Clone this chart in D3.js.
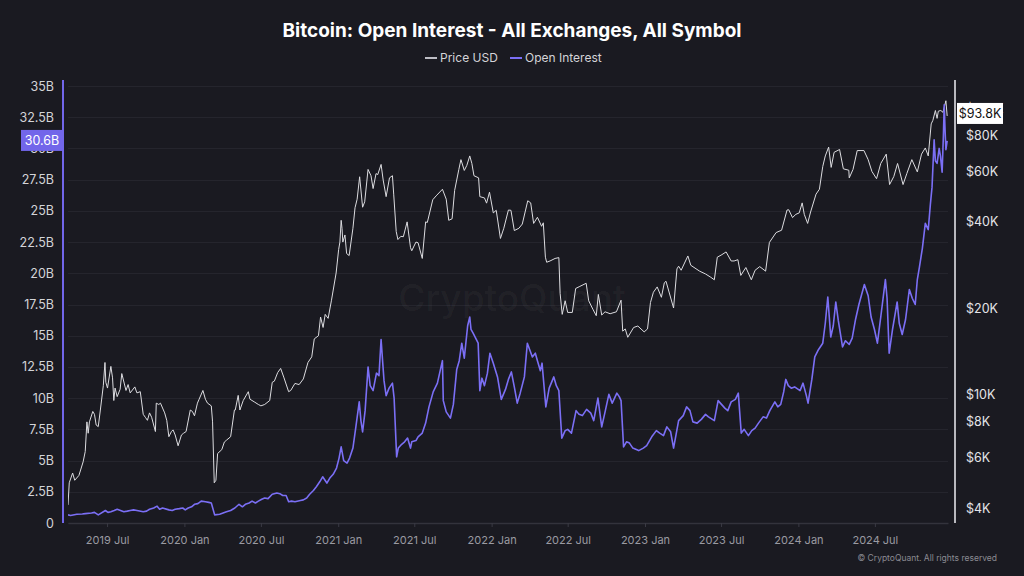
<!DOCTYPE html>
<html>
<head>
<meta charset="utf-8">
<script src="https://cdn.jsdelivr.net/npm/d3@7"></script>
<style>
	html, body { margin: 0; padding: 0; background: #1a1a21; }
	svg { display: block; font-family: Inter, "Noto Sans", sans-serif; }
</style>
</head>
<body>
<div id="chart"></div>
<script>
// BTC price, USD (date, close)
var priceData = [
	["2019-03-30", 4100], ["2019-04-02", 4900], ["2019-04-10", 5300], ["2019-04-15", 5000],
	["2019-04-25", 5200], ["2019-05-05", 5800], ["2019-05-10", 6300], ["2019-05-14", 8000],
	["2019-05-17", 7300], ["2019-05-20", 8000], ["2019-05-28", 8700], ["2019-06-01", 8500],
	["2019-06-05", 7800], ["2019-06-10", 7700], ["2019-06-15", 8800], ["2019-06-22", 10700],
	["2019-06-26", 12900], ["2019-06-28", 11000], ["2019-07-02", 10500], ["2019-07-10", 12500],
	["2019-07-14", 11400], ["2019-07-17", 9500], ["2019-07-20", 10500], ["2019-07-25", 9800],
	["2019-08-01", 10400], ["2019-08-05", 11800], ["2019-08-15", 10300], ["2019-08-20", 10800],
	["2019-08-25", 10100], ["2019-09-05", 10600], ["2019-09-10", 10100], ["2019-09-18", 10200],
	["2019-09-25", 8500], ["2019-09-30", 8300], ["2019-10-05", 8100], ["2019-10-10", 8600],
	["2019-10-15", 8300], ["2019-10-24", 7400], ["2019-10-26", 9300], ["2019-11-01", 9200],
	["2019-11-05", 9300], ["2019-11-15", 8600], ["2019-11-20", 8100], ["2019-11-25", 7100],
	["2019-12-01", 7400], ["2019-12-05", 7500], ["2019-12-10", 7200], ["2019-12-17", 6600],
	["2019-12-25", 7200], ["2019-12-30", 7300], ["2020-01-05", 7400], ["2020-01-15", 8800],
	["2020-01-20", 8700], ["2020-01-25", 8400], ["2020-02-01", 9300], ["2020-02-05", 9600],
	["2020-02-14", 10300], ["2020-02-20", 9600], ["2020-02-25", 9300], ["2020-03-05", 9100],
	["2020-03-08", 8000], ["2020-03-12", 4900], ["2020-03-16", 5000], ["2020-03-20", 6200],
	["2020-03-30", 6400], ["2020-04-05", 6800], ["2020-04-10", 6900], ["2020-04-20", 7100],
	["2020-04-29", 8800], ["2020-05-01", 8800], ["2020-05-08", 9900], ["2020-05-12", 8800],
	["2020-05-20", 9500], ["2020-06-01", 10200], ["2020-06-05", 9600], ["2020-06-15", 9400],
	["2020-06-25", 9200], ["2020-07-01", 9100], ["2020-07-10", 9200], ["2020-07-22", 9500],
	["2020-07-28", 11000], ["2020-08-02", 11100], ["2020-08-10", 11900], ["2020-08-17", 12300],
	["2020-08-25", 11400], ["2020-09-05", 10200], ["2020-09-10", 10300], ["2020-09-20", 10900],
	["2020-09-30", 10800], ["2020-10-10", 11300], ["2020-10-21", 12900], ["2020-10-30", 13500],
	["2020-11-05", 15600], ["2020-11-15", 16000], ["2020-11-20", 18600], ["2020-11-26", 17100],
	["2020-12-01", 19000], ["2020-12-08", 18400], ["2020-12-16", 21300], ["2020-12-27", 26500],
	["2021-01-02", 32000], ["2021-01-05", 34000], ["2021-01-08", 40500], ["2021-01-10", 38000],
	["2021-01-12", 34000], ["2021-01-17", 36000], ["2021-01-21", 31000], ["2021-01-27", 30500],
	["2021-02-05", 38000], ["2021-02-10", 44800], ["2021-02-15", 48000], ["2021-02-21", 57500],
	["2021-02-28", 45000], ["2021-03-05", 47000], ["2021-03-13", 61000], ["2021-03-20", 58000],
	["2021-03-25", 52300], ["2021-04-01", 59000], ["2021-04-05", 58500], ["2021-04-13", 63500],
	["2021-04-18", 56000], ["2021-04-25", 49000], ["2021-05-03", 57000], ["2021-05-10", 58000],
	["2021-05-13", 50000], ["2021-05-19", 37000], ["2021-05-23", 34700], ["2021-05-30", 35600],
	["2021-06-05", 35500], ["2021-06-14", 40000], ["2021-06-22", 32500], ["2021-06-25", 31700],
	["2021-07-05", 34000], ["2021-07-10", 33800], ["2021-07-20", 29800], ["2021-07-28", 40000],
	["2021-08-01", 39800], ["2021-08-14", 47800], ["2021-08-22", 49300], ["2021-09-06", 52000],
	["2021-09-15", 48000], ["2021-09-21", 40500], ["2021-09-29", 41000], ["2021-10-05", 51500],
	["2021-10-15", 61000], ["2021-10-20", 66000], ["2021-10-28", 60500], ["2021-11-03", 63000],
	["2021-11-10", 68000], ["2021-11-15", 64000], ["2021-11-20", 58000], ["2021-12-01", 57000],
	["2021-12-04", 49000], ["2021-12-15", 48500], ["2021-12-20", 46500], ["2021-12-27", 50800],
	["2022-01-05", 43000], ["2022-01-12", 43900], ["2022-01-22", 35000], ["2022-01-30", 38000],
	["2022-02-10", 44000], ["2022-02-16", 43900], ["2022-02-24", 37300], ["2022-03-07", 38000],
	["2022-03-15", 39300], ["2022-03-28", 47400], ["2022-04-04", 46600], ["2022-04-11", 39500],
	["2022-04-20", 41500], ["2022-04-30", 38600], ["2022-05-04", 39700], ["2022-05-09", 30100],
	["2022-05-12", 28900], ["2022-05-20", 29200], ["2022-06-01", 29800], ["2022-06-10", 30000],
	["2022-06-13", 22500], ["2022-06-18", 19000], ["2022-06-25", 21200], ["2022-07-01", 19300],
	["2022-07-12", 19300], ["2022-07-20", 23400], ["2022-07-30", 23800], ["2022-08-14", 24400],
	["2022-08-20", 21200], ["2022-08-30", 19800], ["2022-09-07", 18800], ["2022-09-12", 22300],
	["2022-09-20", 18900], ["2022-09-28", 19400], ["2022-10-10", 19100], ["2022-10-25", 19400],
	["2022-11-05", 21300], ["2022-11-09", 16600], ["2022-11-15", 16900], ["2022-11-21", 15800],
	["2022-12-05", 17100], ["2022-12-15", 17300], ["2022-12-30", 16500], ["2023-01-07", 16900],
	["2023-01-14", 20900], ["2023-01-21", 22700], ["2023-01-30", 23700], ["2023-02-09", 21800],
	["2023-02-16", 24500], ["2023-02-20", 24800], ["2023-03-10", 20000], ["2023-03-18", 27400],
	["2023-03-22", 28000], ["2023-03-28", 27100], ["2023-04-13", 30400], ["2023-04-20", 28200],
	["2023-05-11", 26900], ["2023-05-25", 26300], ["2023-06-05", 25700], ["2023-06-15", 25100],
	["2023-06-22", 30100], ["2023-07-01", 30600], ["2023-07-13", 31400], ["2023-07-25", 29200],
	["2023-08-01", 29200], ["2023-08-10", 29500], ["2023-08-17", 26000], ["2023-08-29", 27700],
	["2023-09-11", 25100], ["2023-09-20", 27100], ["2023-10-01", 27900], ["2023-10-15", 26900],
	["2023-10-24", 33900], ["2023-11-09", 36700], ["2023-11-22", 37400], ["2023-12-05", 44000],
	["2023-12-09", 44100], ["2023-12-18", 41400], ["2023-12-26", 42500], ["2024-01-03", 43000],
	["2024-01-10", 46600], ["2024-01-15", 42500], ["2024-01-23", 39500], ["2024-01-30", 43300],
	["2024-02-12", 50000], ["2024-02-20", 52000], ["2024-02-28", 62500], ["2024-03-05", 68000],
	["2024-03-13", 73000], ["2024-03-19", 62000], ["2024-03-26", 70000], ["2024-04-08", 71600],
	["2024-04-17", 61300], ["2024-04-30", 60600], ["2024-05-01", 57000], ["2024-05-10", 61000],
	["2024-05-20", 71000], ["2024-06-05", 71000], ["2024-06-15", 66000], ["2024-06-24", 60000],
	["2024-07-05", 56600], ["2024-07-15", 64000], ["2024-07-28", 69000], ["2024-08-05", 54000],
	["2024-08-15", 57600], ["2024-08-24", 64000], ["2024-09-06", 54000], ["2024-09-15", 59000],
	["2024-09-27", 66000], ["2024-10-10", 59800], ["2024-10-20", 69000], ["2024-10-29", 72500],
	["2024-11-05", 68000], ["2024-11-12", 88000], ["2024-11-16", 90500], ["2024-11-22", 98000],
	["2024-11-26", 92000], ["2024-11-29", 97500], ["2024-12-05", 98000], ["2024-12-10", 96600],
	["2024-12-17", 106000], ["2024-12-20", 93800]
];

// open interest, billions USD (date, value)
var oiData = [
	["2019-03-30", 0.65], ["2019-04-05", 0.6], ["2019-04-20", 0.7], ["2019-05-03", 0.72],
	["2019-05-10", 0.75], ["2019-05-25", 0.8], ["2019-06-01", 0.85], ["2019-06-10", 0.65],
	["2019-06-27", 1.0], ["2019-07-03", 0.85], ["2019-07-10", 0.9], ["2019-07-18", 1.0],
	["2019-07-25", 1.1], ["2019-08-10", 0.9], ["2019-08-18", 0.95], ["2019-08-25", 1.0],
	["2019-09-02", 1.05], ["2019-09-10", 1.0], ["2019-09-25", 0.9], ["2019-10-03", 0.95],
	["2019-10-10", 1.1], ["2019-10-20", 1.2], ["2019-10-28", 1.35], ["2019-11-03", 1.1],
	["2019-11-10", 1.2], ["2019-11-25", 1.05], ["2019-12-03", 1.0], ["2019-12-10", 1.1],
	["2019-12-20", 1.15], ["2019-12-28", 1.2], ["2020-01-03", 1.05], ["2020-01-10", 1.2],
	["2020-01-18", 1.3], ["2020-01-25", 1.5], ["2020-02-02", 1.55], ["2020-02-10", 1.75],
	["2020-02-20", 1.7], ["2020-02-28", 1.65], ["2020-03-05", 1.6], ["2020-03-13", 0.65],
	["2020-03-25", 0.7], ["2020-04-10", 0.9], ["2020-04-20", 1.0], ["2020-04-30", 1.2],
	["2020-05-10", 1.5], ["2020-05-18", 1.3], ["2020-05-25", 1.5], ["2020-06-03", 1.6],
	["2020-06-10", 1.75], ["2020-06-18", 1.6], ["2020-06-25", 1.75], ["2020-07-03", 1.9],
	["2020-07-10", 2.0], ["2020-07-18", 1.95], ["2020-07-28", 2.3], ["2020-08-08", 2.4],
	["2020-08-15", 2.35], ["2020-08-22", 2.2], ["2020-08-30", 2.2], ["2020-09-05", 1.7],
	["2020-09-12", 1.75], ["2020-09-20", 1.7], ["2020-10-03", 1.8], ["2020-10-10", 1.85],
	["2020-10-18", 2.0], ["2020-10-25", 2.3], ["2020-11-03", 2.6], ["2020-11-10", 2.9],
	["2020-11-18", 3.3], ["2020-11-25", 3.7], ["2020-12-05", 3.2], ["2020-12-12", 3.6],
	["2020-12-20", 3.9], ["2020-12-28", 4.4], ["2021-01-03", 5.2], ["2021-01-08", 6.1],
	["2021-01-14", 5.0], ["2021-01-22", 4.8], ["2021-01-28", 5.2], ["2021-02-05", 6.0],
	["2021-02-12", 7.7], ["2021-02-20", 9.7], ["2021-02-24", 8.2], ["2021-02-28", 7.3],
	["2021-03-06", 9.0], ["2021-03-13", 12.5], ["2021-03-18", 11.0], ["2021-03-25", 10.6],
	["2021-04-02", 12.0], ["2021-04-08", 11.8], ["2021-04-13", 14.7], ["2021-04-17", 12.8],
	["2021-04-20", 11.4], ["2021-04-25", 10.2], ["2021-05-02", 10.8], ["2021-05-10", 11.2],
	["2021-05-14", 10.0], ["2021-05-20", 5.3], ["2021-05-24", 6.0], ["2021-06-01", 6.3],
	["2021-06-08", 6.5], ["2021-06-15", 6.8], ["2021-06-22", 6.0], ["2021-06-25", 6.5],
	["2021-07-05", 6.6], ["2021-07-10", 6.9], ["2021-07-20", 7.2], ["2021-07-28", 8.0],
	["2021-08-05", 9.3], ["2021-08-15", 10.5], ["2021-08-25", 11.2], ["2021-09-06", 13.0],
	["2021-09-08", 9.8], ["2021-09-15", 8.9], ["2021-09-25", 8.4], ["2021-10-02", 9.5],
	["2021-10-10", 12.3], ["2021-10-16", 13.0], ["2021-10-22", 14.4], ["2021-10-28", 13.2],
	["2021-11-05", 15.8], ["2021-11-10", 16.5], ["2021-11-13", 15.5], ["2021-11-18", 15.2],
	["2021-11-24", 14.8], ["2021-11-30", 14.4], ["2021-12-04", 10.6], ["2021-12-09", 11.6],
	["2021-12-15", 11.0], ["2021-12-22", 12.0], ["2021-12-28", 13.6], ["2022-01-05", 12.8],
	["2022-01-15", 11.7], ["2022-01-24", 9.9], ["2022-02-03", 10.7], ["2022-02-10", 11.5],
	["2022-02-17", 12.1], ["2022-02-24", 10.9], ["2022-03-03", 9.6], ["2022-03-10", 10.4],
	["2022-03-20", 11.7], ["2022-03-27", 14.4], ["2022-04-08", 13.3], ["2022-04-15", 13.6],
	["2022-04-20", 13.0], ["2022-04-27", 12.2], ["2022-05-01", 12.8], ["2022-05-10", 9.3],
	["2022-05-18", 10.8], ["2022-05-29", 11.7], ["2022-06-04", 11.0], ["2022-06-10", 10.6],
	["2022-06-17", 6.8], ["2022-06-25", 7.4], ["2022-07-01", 7.5], ["2022-07-10", 7.2],
	["2022-07-21", 9.0], ["2022-07-28", 8.7], ["2022-08-05", 8.6], ["2022-08-15", 9.1],
	["2022-08-25", 8.8], ["2022-09-01", 8.2], ["2022-09-11", 10.0], ["2022-09-20", 7.7],
	["2022-09-28", 8.9], ["2022-10-07", 10.3], ["2022-10-15", 9.6], ["2022-10-26", 10.4],
	["2022-11-01", 10.1], ["2022-11-05", 9.8], ["2022-11-11", 6.1], ["2022-11-18", 6.5],
	["2022-11-25", 6.4], ["2022-12-03", 6.0], ["2022-12-17", 5.8], ["2022-12-28", 6.0],
	["2023-01-05", 6.2], ["2023-01-17", 6.9], ["2023-01-28", 7.4], ["2023-02-05", 7.2],
	["2023-02-14", 7.0], ["2023-02-22", 7.7], ["2023-03-03", 7.3], ["2023-03-10", 6.0],
	["2023-03-16", 7.1], ["2023-03-22", 8.2], ["2023-04-02", 8.6], ["2023-04-10", 9.3],
	["2023-04-18", 9.0], ["2023-04-25", 8.1], ["2023-05-05", 8.0], ["2023-05-15", 8.3],
	["2023-05-25", 8.7], ["2023-06-01", 8.5], ["2023-06-15", 8.2], ["2023-06-24", 9.8],
	["2023-07-10", 9.2], ["2023-07-17", 9.0], ["2023-07-25", 9.7], ["2023-08-04", 9.9],
	["2023-08-11", 10.4], ["2023-08-18", 7.2], ["2023-08-25", 7.5], ["2023-09-04", 7.0],
	["2023-09-12", 7.4], ["2023-09-20", 7.6], ["2023-09-28", 8.0], ["2023-10-09", 8.5],
	["2023-10-17", 8.4], ["2023-10-25", 9.0], ["2023-11-06", 9.7], ["2023-11-13", 9.3],
	["2023-11-20", 9.5], ["2023-11-27", 10.5], ["2023-12-02", 11.5], ["2023-12-08", 11.0],
	["2023-12-15", 10.8], ["2023-12-23", 10.9], ["2024-01-05", 10.6], ["2024-01-12", 11.2],
	["2024-01-20", 10.2], ["2024-01-24", 9.6], ["2024-02-02", 11.5], ["2024-02-09", 13.3],
	["2024-02-18", 13.9], ["2024-02-28", 14.4], ["2024-03-05", 16.0], ["2024-03-11", 18.1],
	["2024-03-18", 14.9], ["2024-03-24", 15.8], ["2024-03-30", 17.7], ["2024-04-05", 16.2],
	["2024-04-15", 14.1], ["2024-04-22", 14.6], ["2024-05-01", 14.3], ["2024-05-08", 14.8],
	["2024-05-16", 16.3], ["2024-05-24", 17.5], ["2024-06-06", 19.1], ["2024-06-15", 18.2],
	["2024-06-22", 16.5], ["2024-06-30", 15.5], ["2024-07-07", 14.4], ["2024-07-15", 16.5],
	["2024-07-26", 19.5], ["2024-07-30", 18.0], ["2024-08-04", 13.6], ["2024-08-12", 15.5],
	["2024-08-23", 17.7], ["2024-08-28", 16.0], ["2024-09-04", 15.1], ["2024-09-12", 16.3],
	["2024-09-21", 18.7], ["2024-09-28", 18.0], ["2024-10-05", 17.5], ["2024-10-10", 19.5],
	["2024-10-15", 20.5], ["2024-10-22", 22.0], ["2024-10-29", 24.0], ["2024-11-05", 23.5],
	["2024-11-10", 25.5], ["2024-11-14", 26.9], ["2024-11-19", 30.7], ["2024-11-22", 29.0],
	["2024-11-26", 28.8], ["2024-12-01", 30.0], ["2024-12-04", 29.4], ["2024-12-08", 28.1],
	["2024-12-11", 31.0], ["2024-12-13", 33.5], ["2024-12-15", 31.5], ["2024-12-17", 29.9],
	["2024-12-20", 30.6]
];

// tick values
var oiTicks = [0, 2.5, 5, 7.5, 10, 12.5, 15, 17.5, 20, 22.5, 25, 27.5, 30, 32.5, 35];
var priceTicks = [4000, 6000, 8000, 10000, 20000, 40000, 60000, 80000, 100000];

// chart text
var titleText = "Bitcoin: Open Interest - All Exchanges, All Symbol";
var seriesNames = ["Price USD", "Open Interest"];

var width = 1024, height = 576;
var plot = { left: 68, right: 948, top: 80, bottom: 523 };

var parseDate = d3.timeParse("%Y-%m-%d");

// keep the series in date order
function byDate(a, b) { return a[0] < b[0] ? -1 : (a[0] > b[0] ? 1 : 0); }
priceData.sort(byDate);
oiData.sort(byDate);

/**
 * renders the chart
 */
function renderChart(container)
{
	var svg = d3.select(container).append("svg")
		.attr("width", width)
		.attr("height", height);

	svg.append("rect")
		.attr("width", width)
		.attr("height", height)
		.attr("fill", "#1a1a21");

	// scales
	var x = d3.scaleTime()
		.domain([parseDate("2019-03-30"), parseDate("2024-12-22")])
		.range([plot.left, plot.right]);

	var yOI = d3.scaleLinear()
		.domain([0, 35])
		.range([plot.bottom, 86]);

	var yPrice = d3.scaleLog()
		.domain([4000, 100000])
		.range([508, 108]);

	// horizontal grid
	svg.append("g")
		.selectAll("line")
		.data(oiTicks)
		.join("line")
			.attr("x1", plot.left)
			.attr("x2", plot.right)
			.attr("y1", function (d) { return Math.round(yOI(d)) + 0.5; })
			.attr("y2", function (d) { return Math.round(yOI(d)) + 0.5; })
			.attr("stroke", "#25252d")
			.attr("stroke-width", 1);

	// watermark
	svg.append("text")
		.attr("x", 512)
		.attr("y", 311)
		.attr("text-anchor", "middle")
		.attr("font-size", 37)
		.attr("font-weight", 500)
		.attr("fill", "#ffffff")
		.attr("fill-opacity", 0.045)
		.text("CryptoQuant");

	// x axis
	var xAxis = d3.axisBottom(x)
		.ticks(d3.timeMonth.filter(function (d) { return d.getMonth() % 6 === 0; }))
		.tickFormat(d3.timeFormat("%Y %b"))
		.tickSize(4)
		.tickSizeOuter(0)
		.tickPadding(9);

	var gx = svg.append("g")
		.attr("transform", "translate(0," + plot.bottom + ")")
		.call(xAxis);
	gx.select(".domain").attr("stroke", "#33333c").attr("stroke-width", 1.5);
	gx.selectAll(".tick line").attr("stroke", "#3a3a44");
	gx.selectAll(".tick text")
		.attr("fill", "#9a9aa2")
		.attr("font-size", 11)
		.attr("font-family", "Inter, sans-serif");

	// left axis
	var gl = svg.append("g")
		.attr("transform", "translate(63,0)")
		.call(d3.axisLeft(yOI)
			.tickValues(oiTicks)
			.tickFormat(function (d) { return d === 0 ? "0" : d + "B"; })
			.tickSize(0)
			.tickPadding(9));
	gl.select(".domain").remove();
	gl.selectAll(".tick text")
		.attr("fill", "#d4d4d8")
		.attr("font-size", 12.5)
		.attr("font-family", "Inter, sans-serif");
	svg.append("line")
		.attr("x1", 63).attr("x2", 63)
		.attr("y1", plot.top).attr("y2", plot.bottom)
		.attr("stroke", "#7266ea")
		.attr("stroke-width", 2);

	// right axis
	var gr = svg.append("g")
		.attr("transform", "translate(955,0)")
		.call(d3.axisRight(yPrice)
			.tickValues(priceTicks)
			.tickFormat(function (d) { return "$" + (d / 1000) + "K"; })
			.tickSize(0)
			.tickPadding(11));
	gr.select(".domain").remove();
	gr.selectAll(".tick text")
		.attr("fill", "#e4e4e8")
		.attr("font-size", 12.5)
		.attr("font-family", "Inter, sans-serif");
	svg.append("line")
		.attr("x1", 955).attr("x2", 955)
		.attr("y1", plot.top).attr("y2", plot.bottom)
		.attr("stroke", "#b8b8be")
		.attr("stroke-width", 2);

	// clip for the lines
	svg.append("clipPath")
		.attr("id", "plotClip")
		.append("rect")
			.attr("x", plot.left)
			.attr("y", plot.top - 5)
			.attr("width", plot.right - plot.left + 4)
			.attr("height", plot.bottom - plot.top + 5);

	var priceLine = d3.line()
		.x(function (d) { return x(parseDate(d[0])); })
		.y(function (d) { return yPrice(d[1]); });

	var oiLine = d3.line()
		.x(function (d) { return x(parseDate(d[0])); })
		.y(function (d) { return yOI(d[1]); });

	svg.append("path")
		.datum(priceData)
		.attr("clip-path", "url(#plotClip)")
		.attr("d", priceLine)
		.attr("fill", "none")
		.attr("stroke", "#dcdce0")
		.attr("stroke-width", 1)
		.attr("stroke-linejoin", "round");

	svg.append("path")
		.datum(oiData)
		.attr("clip-path", "url(#plotClip)")
		.attr("d", oiLine)
		.attr("fill", "none")
		.attr("stroke", "#7b6ff5")
		.attr("stroke-width", 1.6)
		.attr("stroke-linejoin", "round");

	// last value labels
	var lastOI = oiData[oiData.length - 1][1];
	var lastPrice = priceData[priceData.length - 1][1];

	var ly = yOI(lastOI);
	svg.append("rect")
		.attr("x", 21).attr("y", ly - 11)
		.attr("width", 41).attr("height", 21)
		.attr("fill", "#7266ea");
	svg.append("text")
		.attr("x", 42).attr("y", ly + 4.5)
		.attr("text-anchor", "middle")
		.attr("font-size", 12.5)
		.attr("fill", "#ffffff")
		.text(lastOI.toFixed(1) + "B");

	var ry = yPrice(lastPrice) - 3;
	svg.append("rect")
		.attr("x", 957).attr("y", ry - 10)
		.attr("width", 46).attr("height", 21)
		.attr("fill", "#ffffff");
	svg.append("text")
		.attr("x", 980).attr("y", ry + 5)
		.attr("text-anchor", "middle")
		.attr("font-size", 12.5)
		.attr("fill", "#111111")
		.text("$" + (lastPrice / 1000).toFixed(1) + "K");

	// title
	svg.append("text")
		.attr("x", 512).attr("y", 37)
		.attr("text-anchor", "middle")
		.attr("font-size", 19)
		.attr("font-weight", 700)
		.attr("fill", "#ffffff")
		.text(titleText);

	// legend
	var legendColors = ["#bdbdc4", "#7b6ff5"];
	var legendX = [425, 510];
	var legend = svg.append("g")
		.selectAll("g")
		.data(seriesNames)
		.join("g")
			.attr("transform", function (d, i) { return "translate(" + legendX[i] + ",58)"; });
	legend.append("line")
		.attr("x1", 0).attr("x2", 12)
		.attr("stroke", function (d, i) { return legendColors[i]; })
		.attr("stroke-width", 2);
	legend.append("text")
		.attr("x", 15).attr("y", 4)
		.attr("font-size", 12)
		.attr("fill", "#d4d4d8")
		.text(function (d) { return d; });

	// copyright
	svg.append("text")
		.attr("x", 997).attr("y", 561)
		.attr("text-anchor", "end")
		.attr("font-size", 8.5)
		.attr("fill", "#8a8a92")
		.text("\u00a9 CryptoQuant. All rights reserved");
}

renderChart("#chart");
</script>
</body>
</html>
